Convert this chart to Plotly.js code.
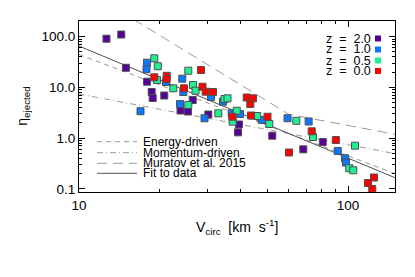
<!DOCTYPE html>
<html>
<head>
<meta charset="utf-8">
<script src="https://cdn.plot.ly/plotly-3.0.1.min.js"></script>
<style>html,body{margin:0;padding:0;background:#fff;}#chart{width:415px;height:277px;}</style>
</head>
<body>
<div id="chart"></div>
<script>
// ---- data ----
const seriesNames = ["z = 2.0", "z = 1.0", "z = 0.5", "z = 0.0"];
const seriesColors = ["#56009a", "#0a78ff", "#1ef096", "#ff0000"];

const vcirc_z20 = [12.65, 14.36, 14.95, 17.89, 18.63, 18.79, 20.75, 26.47, 23.84, 25.43, 30.25, 39.33, 39.0, 52.3, 68.2, 80.6];
const eta_z20   = [91.3, 110.5, 24.4, 12.95, 8.12, 6.18, 6.92, 5.64, 3.50, 3.35, 2.92, 1.855, 1.30, 1.115, 0.601, 0.837];

const vcirc_z10 = [17.89, 17.82, 24.21, 24.42, 23.74, 16.93, 29.28, 30.96, 34.30, 21.06, 36.95, 39.67, 47.88, 59.6, 71.4, 91.6, 97.5, 98.3];
const eta_z10   = [30.7, 22.75, 14.85, 8.12, 4.70, 3.39, 2.46, 6.47, 5.22, 12.78, 3.08, 2.99, 2.275, 2.46, 2.125, 0.556, 0.40, 0.33];

const vcirc_z05 = [19.05, 19.63, 19.5, 25.49, 22.42, 26.53, 27.11, 25.49, 32.95, 34.75, 35.65, 38.58, 37.28, 46.0, 50.98, 64.25, 74.1, 106.2, 101.1, 104.6];
const eta_z05   = [37.5, 26.2, 14.0, 21.35, 9.60, 11.15, 8.61, 4.50, 3.08, 5.91, 6.09, 3.47, 2.106, 2.73, 1.898, 2.193, 1.052, 0.708, 0.254, 0.232];

const vcirc_z00 = [19.05, 21.18, 21.18, 24.57, 28.41, 28.78, 29.58, 31.49, 37.15, 42.02, 44.35, 43.34, 43.6, 50.2, 73.3, 90.1, 60.35, 124.9, 118.7, 123.1];
const eta_z00   = [15.82, 16.93, 14.64, 9.60, 22.0, 10.32, 8.23, 8.12, 2.64, 6.32, 6.09, 4.70, 2.79, 2.64, 1.362, 0.917, 0.52, 0.167, 0.130, 0.099];

// model lines (power laws), parameters
const modelNames = ["Energy-driven", "Momentum-driven", "Muratov et al. 2015", "Fit to data"];
const energyNorm10 = 44.6, energySlope = -2.0;
const momentumNorm10 = 7.4, momentumSlope = -1.0;
const muratovNorm = 2.96, muratovBreak = 60, muratovLowSlope = -3.25, muratovHighSlope = -1.0;
const fitNorm10 = 65.3, fitSlope = -2.21;

const xTickVals = [10, 100];
const xTickText = ["10", "100"];
const yTickVals = [0.1, 1, 10, 100];
const yTickText = ["0.1", "1.0", "10.0", "100.0"];

// ---- build ----
const vGrid = [];
for (let i = 0; i <= 120; i++) vGrid.push(Math.pow(10, 1 + 1.2 * i / 120));
const energyEta = vGrid.map(v => energyNorm10 * Math.pow(v / 10, energySlope));
const momentumEta = vGrid.map(v => momentumNorm10 * Math.pow(v / 10, momentumSlope));
const muratovEta = vGrid.map(v => muratovNorm * Math.pow(v / muratovBreak, v < muratovBreak ? muratovLowSlope : muratovHighSlope));
const fitEta = vGrid.map(v => fitNorm10 * Math.pow(v / 10, fitSlope));

const lineStyles = [
  {color: "#9a9a9a", dash: "5px,4px", width: 1},
  {color: "#9a9a9a", dash: "6px,3px,1px,3px", width: 1},
  {color: "#9a9a9a", dash: "10px,6px", width: 1},
  {color: "#505050", dash: "solid", width: 1}
];
const modelEtas = [energyEta, momentumEta, muratovEta, fitEta];

const traces = [];
modelEtas.forEach((eta, i) => {
  traces.push({x: vGrid, y: eta, type: "scatter", mode: "lines", line: lineStyles[i], hoverinfo: "skip", showlegend: false});
});
const vs = [vcirc_z20, vcirc_z10, vcirc_z05, vcirc_z00];
const es = [eta_z20, eta_z10, eta_z05, eta_z00];
vs.forEach((v, i) => {
  traces.push({x: v, y: es[i], type: "scatter", mode: "markers", name: seriesNames[i],
    marker: {symbol: "square", size: 7, color: seriesColors[i], line: {color: "#505050", width: 1}},
    showlegend: false, cliponaxis: true});
});

const L = 79, R = 395, T = 21, B = 192;
const px = x => (x - L) / (R - L);
const py = y => (B - y) / (B - T);
const font = "Liberation Sans, Arial, Helvetica, sans-serif";
const nb = "\u00a0";

const shapes = [], annotations = [];
const legRows = [141.7, 152.7, 163.3, 173.3];
modelNames.forEach((n, i) => {
  shapes.push({type: "line", xref: "paper", yref: "paper", x0: px(97), x1: px(137), y0: py(legRows[i]), y1: py(legRows[i]),
    line: {color: lineStyles[i].color, dash: lineStyles[i].dash, width: 1}});
  annotations.push({xref: "paper", yref: "paper", x: px(142), y: py(legRows[i]), xanchor: "left", yanchor: "middle",
    text: n, showarrow: false, borderpad: 0, font: {family: font, size: 12, color: "#000"}});
});
const zRows = [38.5, 49.5, 60.5, 71];
seriesNames.forEach((n, i) => {
  annotations.push({xref: "paper", yref: "paper", x: px(372), y: py(zRows[i]), xanchor: "right", yanchor: "middle",
    text: n.replace(/ /g, nb + nb), showarrow: false, borderpad: 0, font: {family: font, size: 12.5, color: "#000"}});
  shapes.push({type: "rect", xref: "paper", yref: "paper", x0: px(375), x1: px(381), y0: py(zRows[i] + 3), y1: py(zRows[i] - 3),
    fillcolor: seriesColors[i], line: {width: 0}});
});
annotations.push({xref: "paper", yref: "paper", x: 0.5, y: py(226.7), xanchor: "center", yanchor: "middle",
  text: "V<sub>circ</sub>" + nb + " [km" + nb + " s<sup>-1</sup>]", showarrow: false, borderpad: 0, font: {family: font, size: 14, color: "#000"}});
annotations.push({xref: "paper", yref: "paper", x: px(23), y: py(106.7), xanchor: "center", yanchor: "middle", textangle: -90,
  text: "η<sub>ejected</sub>", showarrow: false, borderpad: 0, font: {family: font, size: 14, color: "#000"}});

const minorX = [20, 30, 40, 50, 60, 70, 80, 90];
const minorY = [0.2, 0.3, 0.4, 0.5, 0.6, 0.7, 0.8, 0.9, 2, 3, 4, 5, 6, 7, 8, 9, 20, 30, 40, 50, 60, 70, 80, 90, 200];

const layout = {
  width: 415, height: 277,
  margin: {l: L, r: 415 - R, t: T, b: 277 - B, pad: 0},
  paper_bgcolor: "#fff", plot_bgcolor: "#fff",
  showlegend: false,
  font: {family: font, size: 13, color: "#000"},
  xaxis: {type: "log", range: [1, 1 + 316 / 269], tickmode: "array", tickvals: xTickVals, ticktext: xTickText,
    ticks: "inside", ticklen: 6, tickcolor: "#000", showgrid: false, zeroline: false,
    showline: true, linecolor: "#000", linewidth: 1, mirror: "allticks",
    minor: {tickmode: "array", tickvals: minorX, ticks: "inside", ticklen: 3, tickcolor: "#000", showgrid: false},
    tickfont: {family: font, size: 13.5, color: "#000"}, ticklabelstandoff: 1},
  yaxis: {type: "log", range: [-1.063, 2.31], tickmode: "array", tickvals: yTickVals, ticktext: yTickText,
    ticks: "inside", ticklen: 6, tickcolor: "#000", showgrid: false, zeroline: false,
    showline: true, linecolor: "#000", linewidth: 1, mirror: "allticks",
    minor: {tickmode: "array", tickvals: minorY, ticks: "inside", ticklen: 3, tickcolor: "#000", showgrid: false},
    tickfont: {family: font, size: 13.5, color: "#000"}},
  shapes: shapes,
  annotations: annotations
};

Plotly.newPlot("chart", traces, layout, {staticPlot: true, displayModeBar: false});
</script>
</body>
</html>
